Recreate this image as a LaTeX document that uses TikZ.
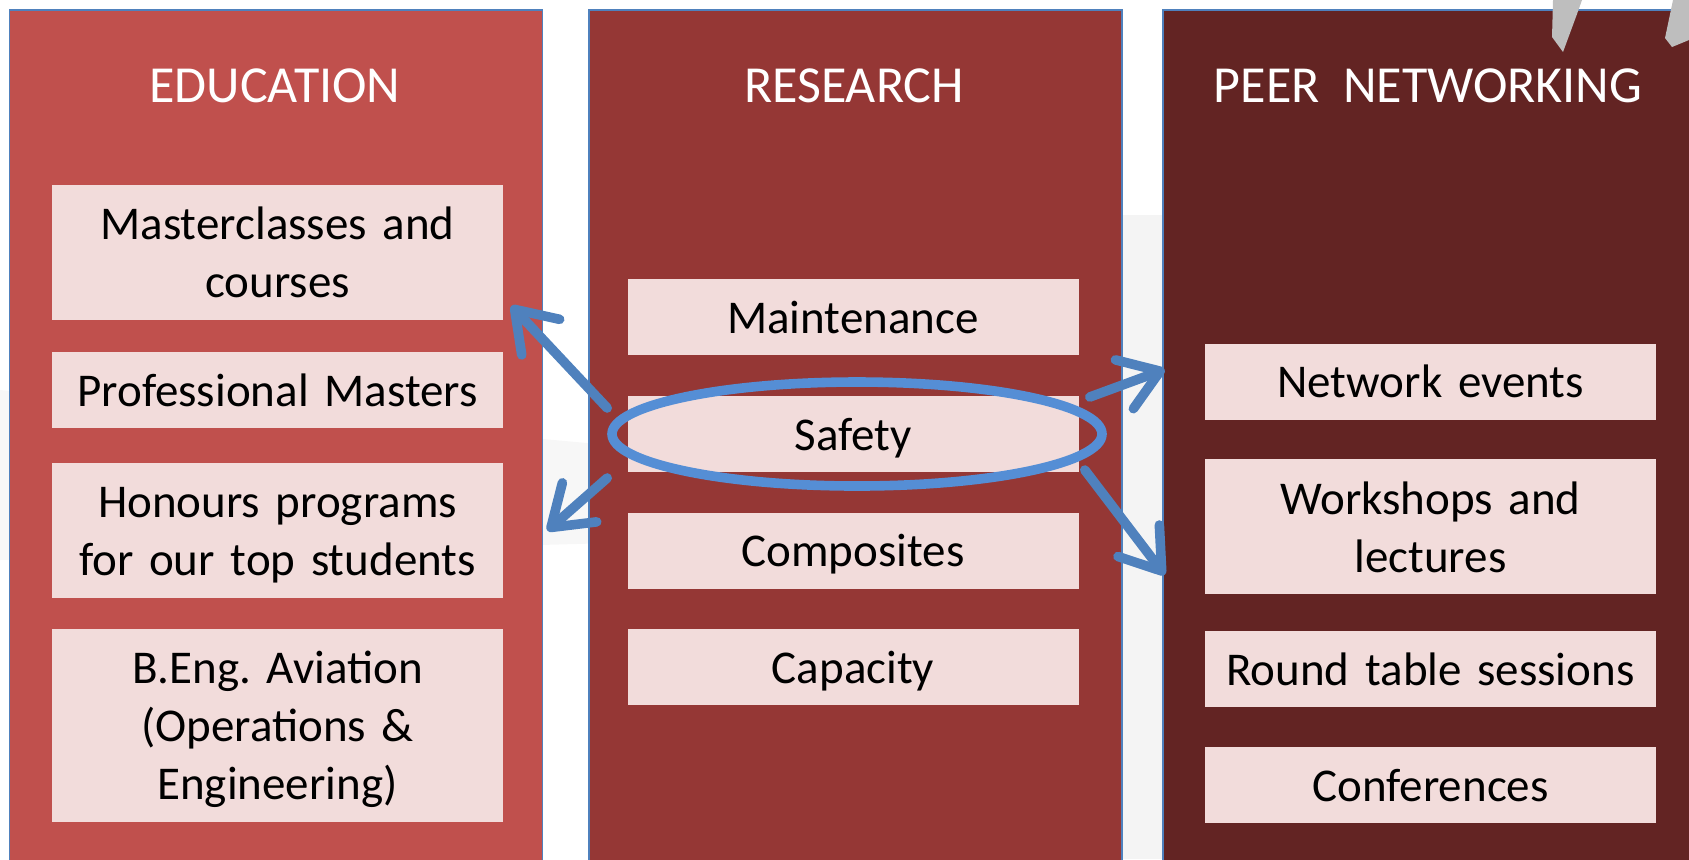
\documentclass[tikz,border=0pt]{standalone}
\usepackage{fontspec}
\setmainfont{Carlito}
\frenchspacing
\usetikzlibrary{positioning,arrows.meta,shapes.geometric}
\definecolor{EduRed}{RGB}{192,80,77}
\definecolor{ResRed}{RGB}{149,55,53}
\definecolor{NetRed}{RGB}{99,36,35}
\definecolor{BoxPink}{RGB}{242,220,219}
\definecolor{EdgeBlue}{RGB}{79,129,189}
\definecolor{RingBlue}{RGB}{85,142,213}
\definecolor{ShadeGrey}{RGB}{190,190,190}

\begin{document}
\begin{tikzpicture}[x=0.5pt, y=-0.5pt,
            column/.style={draw=EdgeBlue, line width=0.75pt, rectangle, anchor=north west, minimum width=266.5pt, minimum height=440pt, inner sep=0pt},
            header/.style={text=white, inner sep=0pt, font=\fontsize{26}{30}\selectfont},
            item/.style={rectangle, fill=BoxPink, align=center, text width=222pt, minimum width=225.5pt, minimum height=38pt, inner sep=0pt, font=\fontsize{23.5}{29}\selectfont, execute at begin node=\rule{0pt}{25pt}, execute at end node=\strut},
            tall/.style={minimum height=67.5pt},
            taller/.style={minimum height=96.5pt},
            pointer/.style={-{Straight Barb[length=19pt, width=26pt, round]}, line width=4.8pt, EdgeBlue, line cap=round}
        ]
            \clip (0,0) rectangle (1689,859);

            % faint shading behind the columns
            \fill[gray!6] (0,390) -- (720,455) -- (720,540) -- (0,560) -- cycle;
            \fill[gray!9] (1100,215) -- (1200,215) -- (1200,859) -- (1100,859) -- cycle;

            % the three columns
            \node (edu) [column, fill=EduRed] at (8.5,9) {};
            \node (res) [column, fill=ResRed] at (588,9) {};
            \node (net) [column, fill=NetRed] at (1162,9) {};

            \node (eduhead) [header] at (275,86) {EDUCATION};
            \node (reshead) [header] at (854,86) {RESEARCH};
            \node (nethead) [header] at (1428,86) {PEER~~NETWORKING};

            % education
            \node (master) [item, tall] at (277.5,252) {Masterclasses and\\courses};
            \node (profmaster) [item, below=16pt of master] {Professional Masters};
            \node (honours) [item, tall, below=17pt of profmaster] {Honours programs\\for our top students};
            \node (beng) [item, taller, below=15pt of honours] {B.Eng. Aviation\\(Operations \&\\Engineering)};

            % research
            \node (maint) [item] at (853,317) {Maintenance};
            \node (safety) [item, below=20pt of maint] {Safety};
            \node (compo) [item, below=20pt of safety] {Composites};
            \node (capa) [item, below=20pt of compo] {Capacity};

            % peer networking
            \node (network) [item] at (1430.5,381.5) {Network events};
            \node (workshops) [item, tall, below=19.5pt of network] {Workshops and\\lectures};
            \node (roundtable) [item, below=18pt of workshops] {Round table sessions};
            \node (confs) [item, below=19.5pt of roundtable] {Conferences};

            % ring round safety
            \node (ring) [draw=RingBlue, line width=4.8pt, ellipse, minimum width=245pt, minimum height=52pt, inner sep=0pt] at (857,434) {};

            \draw [pointer] ([yshift=13pt]ring.west) -- ([xshift=4pt, yshift=7pt]master.south east);
            \draw [pointer] ([yshift=-22pt]ring.west) -- ([xshift=22pt]honours.east);
            \draw [pointer] ([xshift=-8.5pt, yshift=18.5pt]ring.east) -- ([xshift=-20pt, yshift=6pt]network.west);
            \draw [pointer] ([xshift=-11pt, yshift=-18pt]ring.east) -- ([xshift=-20pt, yshift=-24pt]workshops.west);

            % grey tips over the top right corner
            \fill[ShadeGrey] (1553,0) -- (1582,0) -- (1577,14) -- (1563,52) -- (1552,37) -- cycle;
            \fill[ShadeGrey] (1673,0) -- (1689,0) -- (1689,40) -- (1672,47) -- (1665,38) -- cycle;
        \end{tikzpicture}
\end{document}
